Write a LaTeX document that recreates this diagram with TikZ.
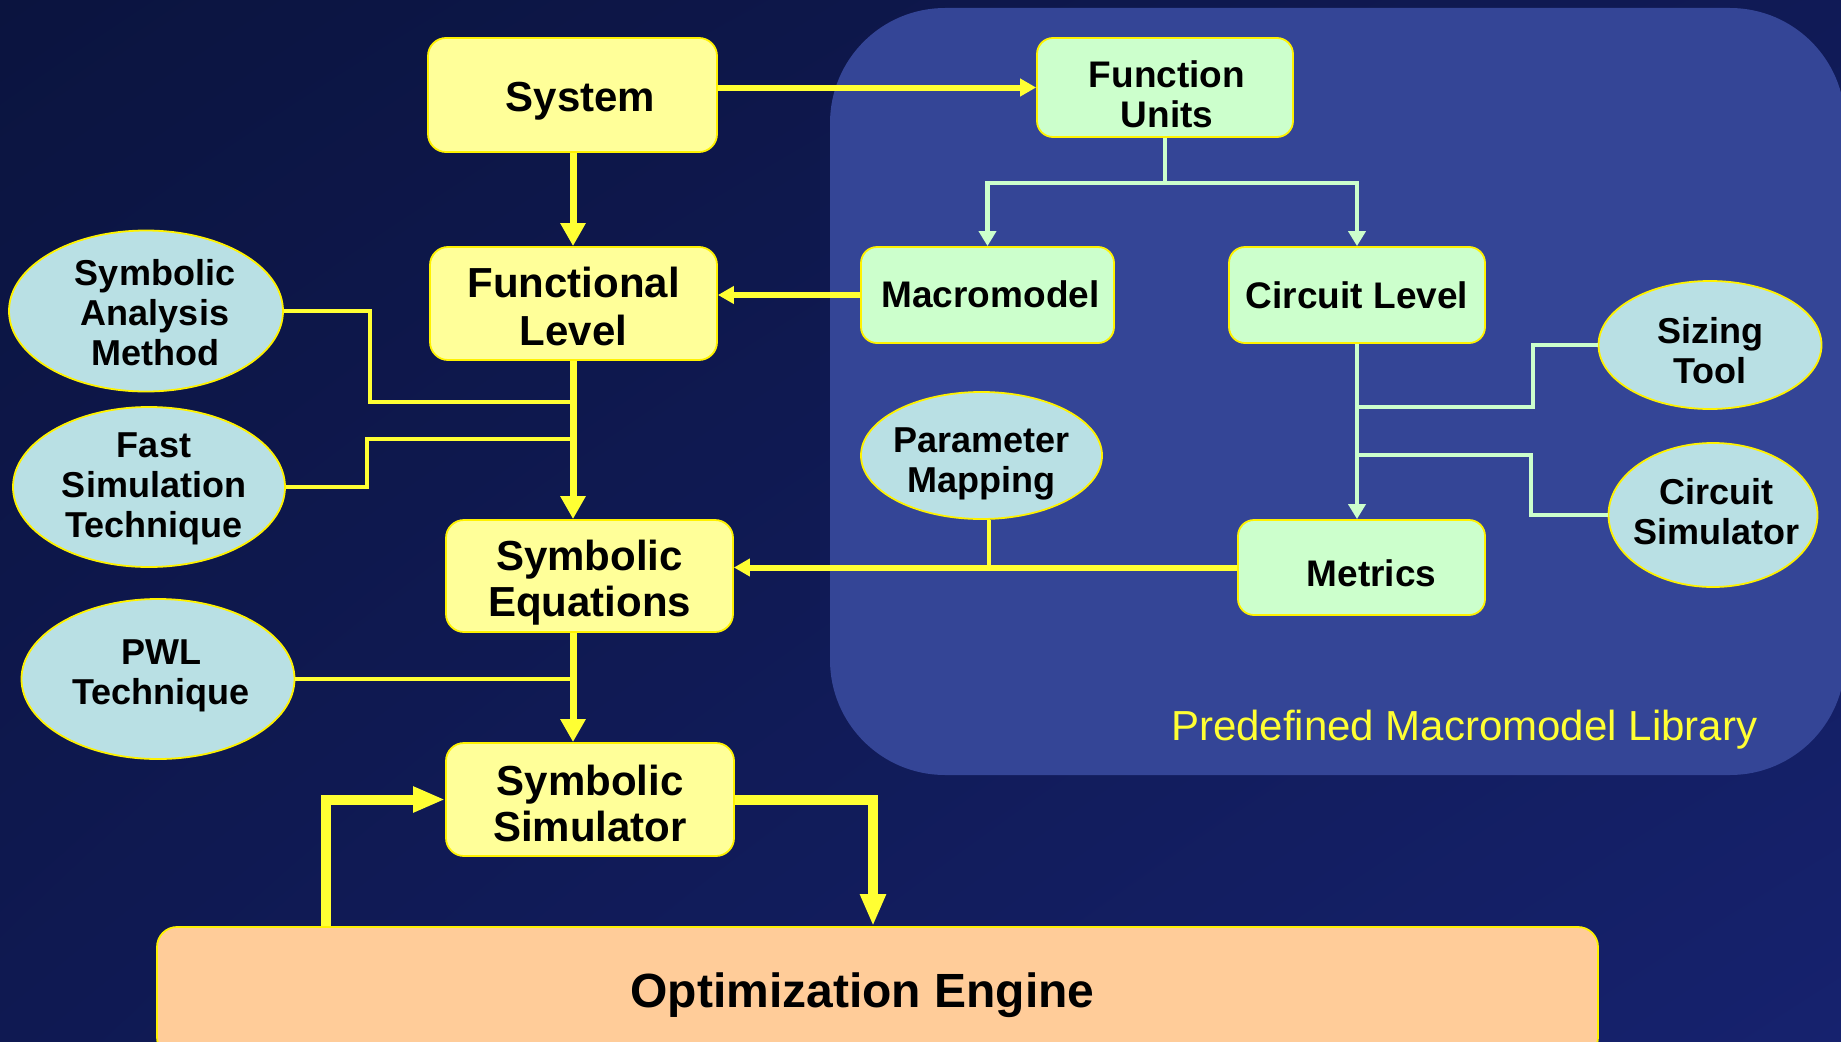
\documentclass[tikz,border=0pt]{standalone}
\usepackage{fontspec}
\setmainfont{Liberation Sans}
\usetikzlibrary{shapes.geometric,arrows.meta,calc,shadings}

\definecolor{bgUL}{RGB}{11,20,63}
\definecolor{bgUR}{RGB}{16,26,86}
\definecolor{bgLL}{RGB}{15,25,82}
\definecolor{bgLR}{RGB}{22,34,110}
\definecolor{libc}{RGB}{52,69,150}
\definecolor{yboxc}{RGB}{255,255,153}
\definecolor{gboxc}{RGB}{204,255,204}
\definecolor{ellc}{RGB}{185,224,228}
\definecolor{oboxc}{RGB}{255,204,153}
\definecolor{ylinec}{RGB}{255,255,51}
\definecolor{glinec}{RGB}{204,255,204}

% shift the printed lines by (dx, down dy) without changing the node size
\newcommand{\tshift}[3]{\raisebox{-#2}[\height][\depth]{\hspace*{#1}\begin{tabular}{@{}c@{}}#3\end{tabular}\hspace*{-#1}}}

\tikzset{
  ybx/.style={draw=yellow, line width=1.8pt, fill=yboxc, rounded corners=18pt, inner sep=0pt,
    align=center, font=\fontsize{42}{46}\selectfont\bfseries},
  gbx/.style={draw=yellow, line width=1.8pt, fill=gboxc, rounded corners=16pt, inner sep=0pt,
    align=center, font=\fontsize{37}{40}\selectfont\bfseries},
  ellbx/.style={ellipse, draw=yellow, line width=1.8pt, fill=ellc, inner sep=-45pt,
    align=center, font=\fontsize{36}{40}\selectfont\bfseries},
  obx/.style={draw=yellow, line width=1.8pt, fill=oboxc, rounded corners=20pt, inner sep=0pt,
    align=center, font=\fontsize{48}{52}\selectfont\bfseries},
  ymain/.style={draw=ylinec, line width=7pt, -{Triangle[length=23pt,width=24pt]}},
  yar/.style={draw=ylinec, line width=6pt, -{Triangle[length=16pt,width=17pt]}},
  yside/.style={draw=ylinec, line width=4pt},
  fbk/.style={draw=ylinec, line width=10pt, -{Triangle[length=32pt,width=24pt]}},
  gar/.style={draw=glinec, line width=4.5pt, -{Triangle[length=15pt,width=17pt]}},
  gln/.style={draw=glinec, line width=4pt},
}

\begin{document}
\begin{tikzpicture}[x=1pt,y=-1pt]
\useasboundingbox (0,0) rectangle (1841,1041);
\clip (0,0) rectangle (1841,1041);
\shade[upper left=bgUL, upper right=bgUR, lower left=bgLL, lower right=bgLR] (0,0) rectangle (1841,1041);

% library panel
\fill[libc, rounded corners=115pt] (830,8) rectangle (1845,775);
\node[anchor=base west, text=ylinec, inner sep=0pt, font=\fontsize{42}{46}\selectfont] (libl) at (1171,740) {Predefined Macromodel Library};

% main column boxes
\node[ybx, minimum width=289pt, minimum height=114pt] (sys) at (572.5,95) {\tshift{8pt}{7pt}{System}};
\node[ybx, minimum width=287pt, minimum height=113pt] (fl) at (573.5,303.5) {\tshift{0pt}{9pt}{Functional\\[2pt]Level}};
\node[ybx, minimum width=287pt, minimum height=112pt] (se) at (589.5,576) {\tshift{0pt}{8pt}{Symbolic\\Equations}};
\node[ybx, minimum width=288pt, minimum height=113pt] (ss) at (590,799.5) {\tshift{0pt}{10pt}{Symbolic\\Simulator}};
\node[obx, minimum width=1441pt, minimum height=130pt] (opt) at (877.5,992) {\tshift{-15pt}{5pt}{Optimization Engine}};

% left ellipses
\node[ellbx, minimum width=274pt, minimum height=161pt] (sam) at (146,311) {\tshift{9pt}{6.5pt}{Symbolic\\Analysis\\Method}};
\node[ellbx, minimum width=272pt, minimum height=160pt] (fst) at (149,487) {\tshift{5pt}{2pt}{Fast\\Simulation\\Technique}};
\node[ellbx, minimum width=273pt, minimum height=160pt] (pwl) at (158,679) {\tshift{3pt}{-2.5pt}{PWL\\Technique}};

% library boxes
\node[gbx, minimum width=256pt, minimum height=99pt] (fu) at (1165,87.5) {\tshift{2pt}{12pt}{Function\\Units}};
\node[gbx, minimum width=253pt, minimum height=96pt] (mm) at (987.5,295) {\tshift{3pt}{4pt}{Macromodel}};
\node[gbx, minimum width=256pt, minimum height=96pt] (cl) at (1357,295) {\tshift{0pt}{5pt}{Circuit Level}};
\node[gbx, minimum width=247pt, minimum height=95pt] (met) at (1361.5,567.5) {\tshift{10pt}{11pt}{Metrics}};
\node[ellbx, minimum width=241pt, minimum height=127pt] (pm) at (981.5,455.5) {\tshift{0pt}{8.5pt}{Parameter\\Mapping}};
\node[ellbx, minimum width=223pt, minimum height=128pt] (st) at (1710,345) {\tshift{0pt}{10pt}{Sizing\\Tool}};
\node[ellbx, minimum width=209pt, minimum height=144pt] (cs) at (1713,515) {\tshift{3pt}{1pt}{Circuit\\Simulator}};

% helper coordinates
\coordinate (tx) at (573,0);
\coordinate (k1) at (370,402);
\coordinate (k2) at (367,439);
\coordinate (split) at (1165,183);
\coordinate (k4) at (1533,407);
\coordinate (k5) at (1531,455);
\coordinate (pmx) at (989,0);
\coordinate (fbL) at (326,0);
\coordinate (fbR) at (873,0);

% side inputs
\draw[yside] (sam.east) -| (k1) -- (tx |- k1);
\draw[yside] (fst.east) -| (k2) -- (tx |- k2);
\draw[yside] (pwl.east) -- (tx |- pwl.east);

% main trunk
\draw[ymain] (tx |- sys.south) -- (tx |- fl.north);
\draw[ymain] (tx |- fl.south) -- (tx |- se.north);
\draw[ymain] (tx |- se.south) -- (tx |- ss.north);

% horizontal arrows
\draw[yar] (sys.east |- fu.west) -- (fu.west);
\draw[yar] (mm.west) -- (fl.east |- mm.west);
\draw[yside] (pmx |- pm.south) -- (pmx |- met.west);
\draw[yar] (met.west) -- (se.east |- met.west);

% library tree
\draw[gln] (fu.south) -- (split);
\draw[gar] (split) -| (mm.north);
\draw[gar] (split) -| (cl.north);
\draw[gln] (st.west) -| (k4) -- (cl.south |- k4);
\draw[gln] (cl.south |- k5) -- (k5) |- (cs.west);
\draw[gar] (cl.south) -- (cl.south |- met.north);

% feedback loop with optimization engine
\draw[fbk] (fbL |- opt.north) |- (ss.west);
\draw[fbk] (ss.east) -| (fbR |- opt.north);
\end{tikzpicture}
\end{document}
